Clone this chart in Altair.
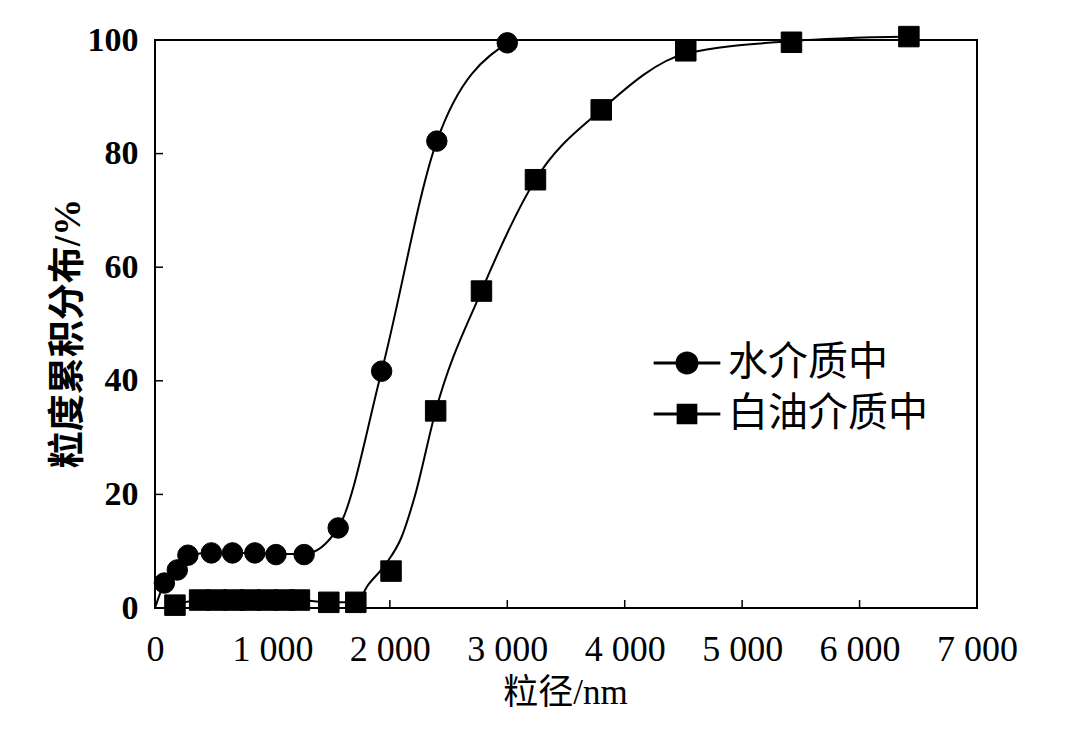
import altair as alt
import pandas as pd

# ---- data ----
series_names = ["水介质中", "白油介质中"]

water_x = [80, 190, 280, 480, 660, 850, 1030, 1270, 1560, 1930, 2400, 3000]
water_y = [4.4, 6.7, 9.3, 9.7, 9.7, 9.7, 9.4, 9.4, 14.1, 41.7, 82.2, 99.5]

oil_x = [170, 380, 525, 670, 810, 955, 1100, 1230, 1480, 1710, 2010, 2390,
         2780, 3240, 3800, 4520, 5420, 6420]
oil_y = [0.5, 1.4, 1.4, 1.4, 1.4, 1.4, 1.4, 1.4, 1.0, 1.0, 6.5, 34.7,
         55.8, 75.4, 87.7, 98.1, 99.6, 100.6]

# fitted curves, points
water_curve_x = [0, 80, 190, 280, 480, 660, 850, 1030, 1270, 1560, 1930, 2400, 3000]
water_curve_y = [0, 4.4, 6.7, 9.3, 9.7, 9.7, 9.7, 9.5, 9.5, 14.1, 41.7, 82.2, 99.5]

oil_curve_x = [170, 380, 1230, 1480, 1710, 1820, 1960, 2100, 2210, 2390,
               2780, 3240, 3800, 4520, 5420, 6420]
oil_curve_y = [0.5, 1.4, 1.4, 1.0, 1.0, 4.2, 7.6, 12.5, 19.5, 34.7,
               55.8, 75.4, 87.7, 97.6, 99.8, 100.6]

x_tick_labels = [0, 1000, 2000, 3000, 4000, 5000, 6000, 7000]
y_tick_labels = [0, 20, 40, 60, 80, 100]
x_inner_ticks = [1000, 2000, 3000, 4000, 5000, 6000]
y_inner_ticks = [20, 40, 60, 80]

# ---- tables ----
pts = pd.DataFrame({
    "x": water_x + oil_x,
    "y": water_y + oil_y,
    "series": [series_names[0]] * len(water_x) + [series_names[1]] * len(oil_x),
})
curves = pd.DataFrame({
    "x": water_curve_x + oil_curve_x,
    "y": water_curve_y + oil_curve_y,
    "series": [series_names[0]] * len(water_curve_x) + [series_names[1]] * len(oil_curve_x),
})
legend_df = pd.DataFrame({"legend": series_names})
xt_df = pd.DataFrame({"x": x_inner_ticks})
yt_df = pd.DataFrame({"y": y_inner_ticks})

W, H = 822, 568
NUM_FONT = "Liberation Serif"
CJK_FONT = "Liberation Serif, Noto Sans CJK SC"

xs = alt.Scale(domain=[0, 7000], nice=False, zero=False)
ys = alt.Scale(domain=[0, 100], nice=False)

x_axis = alt.Axis(
    values=x_tick_labels,
    labelExpr="replace(format(datum.value, ','), ',', ' ')",
    labelFont=NUM_FONT, labelFontSize=36, labelColor="black",
    labelPadding=24, labelOverlap=False, labelFlush=False,
    ticks=False, tickSize=0, domain=False, grid=False,
    title="粒径/nm", titleFont=CJK_FONT, titleFontSize=35, titleFontWeight="normal",
    titleColor="black", titleX=410, titleY=84, titleBaseline="middle", titleAlign="center",
)
y_axis = alt.Axis(
    values=y_tick_labels,
    labelFont=NUM_FONT, labelFontSize=34, labelFontWeight="bold", labelColor="black",
    labelPadding=17, labelOverlap=False, labelFlush=False,
    ticks=False, tickSize=0, domain=False, grid=False,
    title="粒度累积分布/%", titleFont=CJK_FONT, titleFontSize=37, titleFontWeight="bold",
    titleColor="black", titleAngle=270, titleX=-87, titleY=293,
    titleBaseline="middle", titleAlign="center",
)

curve_layer = alt.Chart(curves).mark_line(
    interpolate="monotone", color="black", strokeWidth=2
).encode(
    x=alt.X("x:Q", scale=xs, axis=x_axis),
    y=alt.Y("y:Q", scale=ys, axis=y_axis),
    detail="series:N",
)

point_layer = alt.Chart(pts).mark_point(
    filled=True, fill="black", stroke="black", strokeWidth=1, opacity=1, size=420
).encode(
    x=alt.X("x:Q", scale=xs),
    y=alt.Y("y:Q", scale=ys),
    shape=alt.Shape("series:N", scale=alt.Scale(domain=series_names, range=["circle", "square"]),
                    legend=None),
)

ytick_layer = alt.Chart(yt_df).mark_rule(color="black", strokeWidth=1.5).encode(
    y=alt.Y("y:Q", scale=ys), x=alt.value(0), x2=alt.value(8)
)
xtick_layer = alt.Chart(xt_df).mark_rule(color="black", strokeWidth=1.5).encode(
    x=alt.X("x:Q", scale=xs), y=alt.value(H), y2=alt.value(H - 8)
)

# legend: line through marker, drawn as filled custom symbol paths
circle_sym = ("M-2.9,-0.12H-0.95V0.12H-2.9Z"
              "M0.95,-0.12H2.9V0.12H0.95Z"
              "M1,0A1,1,0,1,1,-1,0A1,1,0,1,1,1,0Z")
square_sym = ("M-2.9,-0.12H-0.85V0.12H-2.9Z"
              "M0.85,-0.12H2.9V0.12H0.85Z"
              "M-0.9,-0.9H0.9V0.9H-0.9Z")
legend_layer = alt.Chart(legend_df).transform_filter("false").mark_point(
    filled=True, fill="black", opacity=1
).encode(
    shape=alt.Shape("legend:N",
                    scale=alt.Scale(domain=series_names, range=[circle_sym, square_sym]),
                    legend=alt.Legend(
                        orient="none", legendX=512, legendY=303, title=None, padding=0,
                        labelFont=CJK_FONT, labelFontSize=40, labelColor="black",
                        labelOffset=21, labelLimit=500, rowPadding=11,
                        symbolSize=529, symbolStrokeWidth=0,
                        symbolFillColor="black", symbolOpacity=1,
                    )),
)

chart = alt.layer(
    ytick_layer, xtick_layer, curve_layer, point_layer, legend_layer
).resolve_scale(shape="independent").properties(
    width=W, height=H,
    autosize=alt.AutoSizeParams(type="none"),
    padding={"left": 147, "top": 32, "right": 95, "bottom": 118},
    background="white",
).configure_view(stroke="black", strokeWidth=2)

chart.save("out.html", embed_options={"renderer": "svg", "actions": False})
